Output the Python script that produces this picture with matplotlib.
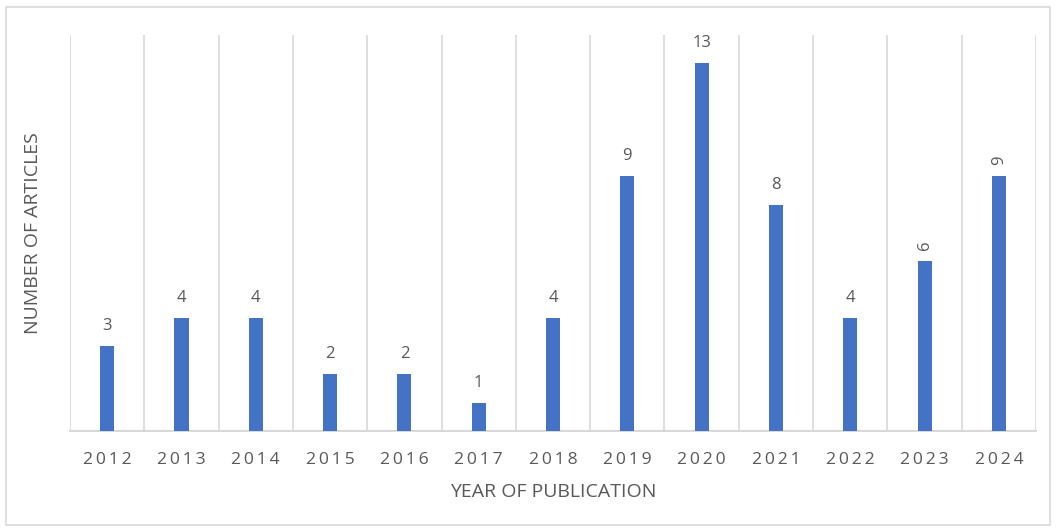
import matplotlib.pyplot as plt
from matplotlib.patches import Rectangle

# articles per year of publication
years = ['2012', '2013', '2014', '2015', '2016', '2017', '2018',
         '2019', '2020', '2021', '2022', '2023', '2024']
articles = [3, 4, 4, 2, 2, 1, 4, 9, 13, 8, 4, 6, 9]
# Excel drew the last two labels sideways
label_rotation = [0, 0, 0, 0, 0, 0, 0, 0, 0, 0, 0, 90, 90]

plt.rcParams['font.family'] = ['Open Sans', 'DejaVu Sans']

fig = plt.figure(figsize=(10.56, 5.30), dpi=100)
ax = fig.add_axes([0.0663, 0.1868, 0.9148, 0.7472])

x = range(len(years))
ax.bar(x, articles, width=0.19, color='#4472c4', zorder=3)

# value labels
for i, v in enumerate(articles):
    ax.annotate(str(v), (i, v), xytext=(0, 20 if label_rotation[i] == 0 else 16),
                textcoords='offset pixels', ha='center', va='center',
                rotation=label_rotation[i], fontsize=12, color='#595959',
                annotation_clip=False)

ax.set_xlim(-0.5, len(years) - 0.5)
ax.set_ylim(0, 14)

# vertical gridlines between categories
for b in range(len(years) + 1):
    ax.axvline(b - 0.5, color='#d9d9d9', lw=1.2, zorder=1)

for s in ['top', 'right', 'left']:
    ax.spines[s].set_visible(False)
ax.spines['bottom'].set_color('#d9d9d9')
ax.spines['bottom'].set_linewidth(1.5)

ax.set_xticks(list(x))
ax.set_xticklabels(['\u2009'.join(y) for y in years], fontsize=12.6, color='#595959')
ax.tick_params(axis='x', length=0, pad=15)
ax.set_yticks([])

ax.set_xlabel('YEAR OF PUBLICATION', fontsize=14, color='#595959', labelpad=11)
ax.set_ylabel('NUMBER OF ARTICLES', fontsize=14, color='#595959', labelpad=20)

# light border around the whole chart
fig.patches.append(Rectangle((6 / 1056, 5 / 530), 1044 / 1056, 518 / 530,
                             transform=fig.transFigure, fill=False,
                             edgecolor='#d9d9d9', lw=1.2))

fig.savefig('out.png', dpi=100)
